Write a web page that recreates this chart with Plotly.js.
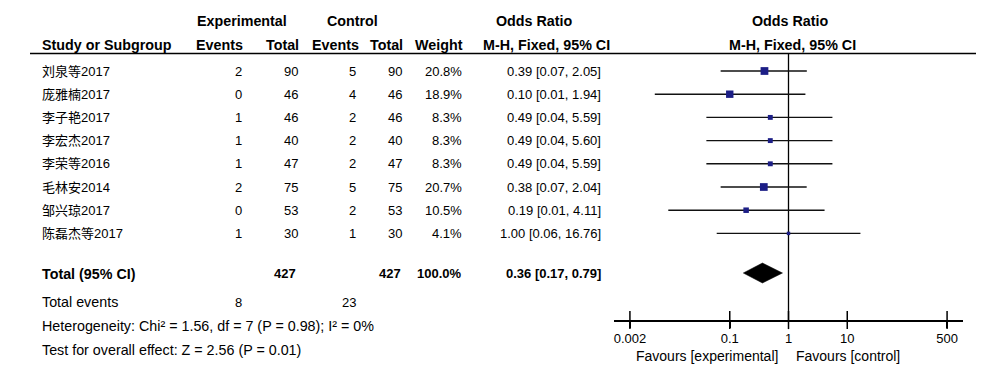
<!DOCTYPE html>
<html>
<head>
<meta charset="utf-8">
<script src="https://cdn.plot.ly/plotly-3.0.1.min.js"></script>
<style>html,body{margin:0;padding:0;background:#fff;}#chart{width:1000px;height:372px;}</style>
</head>
<body>
<div id="chart"></div>
<script>
// ---- data ----
const studies = ['刘泉等2017','庞雅楠2017','李子艳2017','李宏杰2017','李荣等2016','毛林安2014','邹兴琼2017','陈磊杰等2017'];
const expEvents = [2,0,1,1,1,2,0,1];
const expTotal = [90,46,46,40,47,75,53,30];
const ctrlEvents = [5,4,2,2,2,5,2,1];
const ctrlTotal = [90,46,46,40,47,75,53,30];
const weight = [20.8,18.9,8.3,8.3,8.3,20.7,10.5,4.1];
const orVal = [0.39,0.10,0.49,0.49,0.49,0.38,0.19,1.00];
const ciLow = [0.07,0.0053,0.04,0.04,0.04,0.07,0.009,0.06];
const ciHigh = [2.05,1.94,5.59,5.60,5.59,2.04,4.11,16.76];
const totalOR = 0.36, totalLow = 0.17, totalHigh = 0.79;
const totalExpN = 427, totalCtrlN = 427, totalWeight = 100.0;
const totalExpEvents = 8, totalCtrlEvents = 23;
const heterogeneityText = 'Heterogeneity: Chi² = 1.56, df = 7 (P = 0.98); I² = 0%';
const overallText = 'Test for overall effect: Z = 2.56 (P = 0.01)';
const tickVals = [0.002,0.1,1,10,500];
const tickText = ['0.002','0.1','1','10','500'];

// ---- layout helpers ----
const FONT = 'Liberation Sans, Arial, "Noto Sans CJK SC", sans-serif';
const W = 1000, H = 372;
const NUM = 13, TXT = 14.3, NAME = 13;
const rowY = i => 71 + i*23.2;
const yTotal = 273.5, yEvents = 302, yHet = 326, yTest = 349.5;
const yHead1 = 21, yHead2 = 45, yLine = 53.5, yAxis = 320;
const col = {study:40, ee:244, et:300, ce:358, ct:404, w:464, or:603};

const ann = [];
function txt(text, xpx, y, anchor, bold, size){
  ann.push({text: bold ? '<b>'+text+'</b>' : text, x: xpx/W, xref:'paper', y: y, yref:'y',
    xanchor: anchor, yanchor:'middle', showarrow:false, font:{family:FONT, size:size, color:'#000'}});
}
const fmt2 = v => v.toFixed(2);

// headers
txt('Experimental', 242, yHead1, 'center', true, TXT);
txt('Control', 352, yHead1, 'center', true, TXT);
txt('Odds Ratio', 534, yHead1, 'center', true, TXT);
txt('Odds Ratio', 790, yHead1, 'center', true, TXT);
txt('Study or Subgroup', col.study, yHead2, 'left', true, TXT);
txt('Events', 245, yHead2, 'right', true, TXT);
txt('Total', 301, yHead2, 'right', true, TXT);
txt('Events', 361, yHead2, 'right', true, TXT);
txt('Total', 405, yHead2, 'right', true, TXT);
txt('Weight', 465, yHead2, 'right', true, TXT);
txt('M-H, Fixed, 95% CI', 612, yHead2, 'right', true, TXT);
txt('M-H, Fixed, 95% CI', 792, yHead2, 'center', true, TXT);

studies.forEach((s,i)=>{
  const y = rowY(i);
  txt(s, col.study, y, 'left', false, NAME);
  txt(String(expEvents[i]), col.ee, y, 'right', false, NUM);
  txt(String(expTotal[i]), col.et, y, 'right', false, NUM);
  txt(String(ctrlEvents[i]), col.ce, y, 'right', false, NUM);
  txt(String(ctrlTotal[i]), col.ct, y, 'right', false, NUM);
  txt(weight[i].toFixed(1)+'%', col.w, y, 'right', false, NUM);
  txt(fmt2(orVal[i])+' ['+fmt2(ciLow[i])+', '+fmt2(ciHigh[i])+']', col.or, y, 'right', false, NUM);
});

txt('Total (95% CI)', col.study, yTotal, 'left', true, TXT);
txt(String(totalExpN), col.et - 2, yTotal, 'right', true, NUM);
txt(String(totalCtrlN), col.ct - 1, yTotal, 'right', true, NUM);
txt(totalWeight.toFixed(1)+'%', col.w, yTotal, 'right', true, NUM);
txt(fmt2(totalOR)+' ['+fmt2(totalLow)+', '+fmt2(totalHigh)+']', col.or, yTotal, 'right', true, NUM);
txt('Total events', col.study, yEvents, 'left', false, TXT);
txt(String(totalExpEvents), col.ee, yEvents, 'right', false, NUM);
txt(String(totalCtrlEvents), col.ce, yEvents, 'right', false, NUM);
txt(heterogeneityText, col.study, yHet, 'left', false, TXT);
txt(overallText, col.study, yTest, 'left', false, TXT);
txt('Favours [experimental]', 780, 356, 'right', false, 14);
txt('Favours [control]', 794, 356, 'left', false, 14);

const traces = [];
// null line
traces.push({x:[1,1], y:[yLine, yAxis], mode:'lines', line:{color:'#000', width:1.3}, hoverinfo:'skip'});
// study estimates with CI whiskers
traces.push({
  x: orVal, y: studies.map((s,i)=>rowY(i)), mode:'markers',
  marker:{symbol:'square', size: weight.map(w=>Math.sqrt(w)*1.7), color:'#1c1e86', opacity:1, line:{color:'#1c1e86', width:0}},
  error_x:{type:'data', symmetric:false, array: ciHigh.map((h,i)=>h-orVal[i]), arrayminus: ciLow.map((l,i)=>orVal[i]-l),
    width:0, thickness:1.4, color:'#111'},
  hoverinfo:'skip'
});
// pooled diamond
traces.push({x:[totalLow, totalOR, totalHigh, totalOR, totalLow], y:[yTotal-0.5, yTotal-10.5, yTotal-0.5, yTotal+9.5, yTotal-0.5],
  mode:'lines', fill:'toself', fillcolor:'#000', line:{color:'#000', width:0.5}, hoverinfo:'skip'});
// tick crossings
traces.push({x: tickVals, y: tickVals.map(()=>yAxis), mode:'markers',
  marker:{symbol:'line-ns-open', size:13, color:'#000', line:{color:'#000', width:1.5}}, hoverinfo:'skip'});

const layout = {
  width: W, height: H, margin:{l:0,r:0,t:0,b:0}, showlegend:false,
  paper_bgcolor:'#fff', plot_bgcolor:'rgba(0,0,0,0)',
  font:{family:FONT, size:13, color:'#000'},
  xaxis:{type:'log', range:[-2.97, 2.97], domain:[0.614, 0.963], anchor:'free', position:(H-yAxis)/H,
    showline:true, linewidth:1.5, linecolor:'#000', ticks:'outside', ticklen:6, tickwidth:1.5, tickcolor:'#000',
    tickvals: tickVals, ticktext: tickText, showgrid:false, zeroline:false, tickfont:{family:FONT, size:13, color:'#000'},
    fixedrange:true},
  yaxis:{range:[H,0], domain:[0,1], visible:false, showgrid:false, zeroline:false, fixedrange:true},
  shapes:[{type:'line', xref:'paper', yref:'y', x0:30/W, x1:976/W, y0:yLine, y1:yLine, line:{color:'#000', width:1.6}}],
  annotations: ann
};
Plotly.newPlot('chart', traces, layout, {staticPlot:true, displayModeBar:false});
</script>
</body>
</html>
